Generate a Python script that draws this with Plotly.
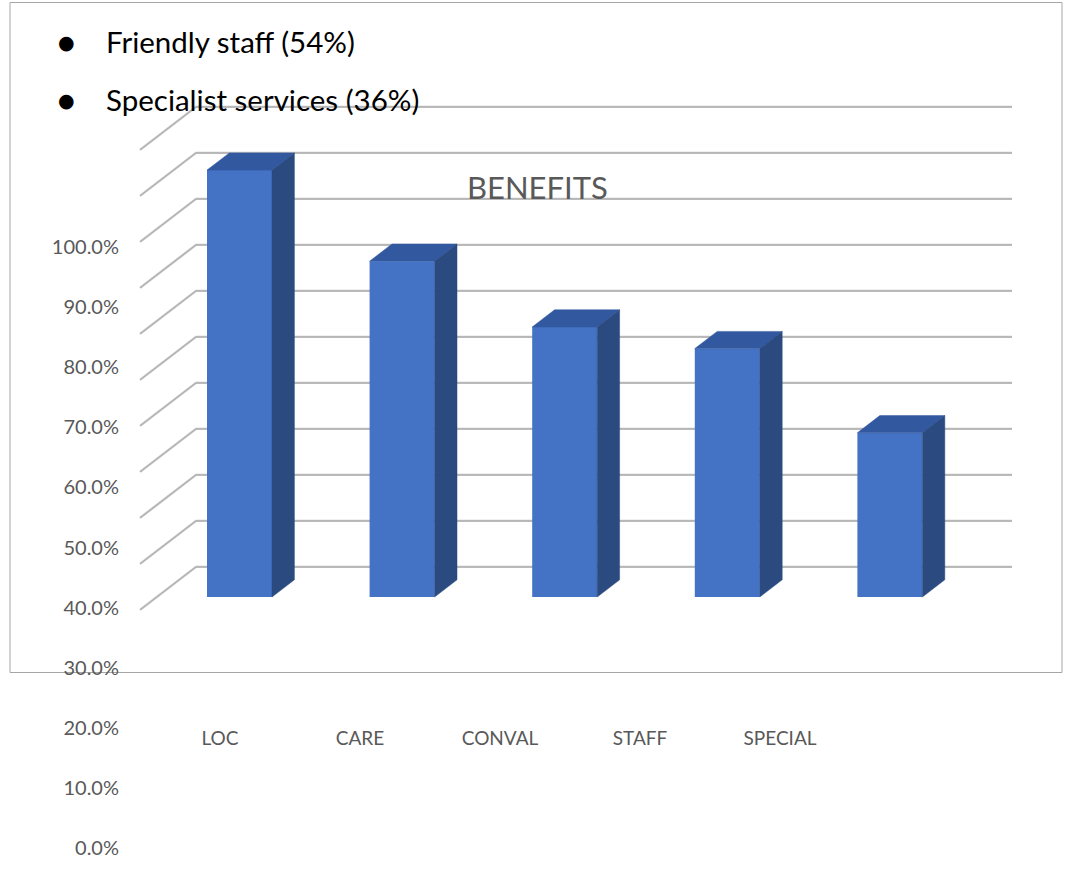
import plotly.graph_objects as go

# ---------------- data ----------------
CATEGORIES = ["LOC", "CARE", "CONVAL", "STAFF", "SPECIAL"]
VALUES = [92.8, 73.0, 58.7, 54.0, 35.7]          # percent
GRID_VALUES = [0, 10, 20, 30, 40, 50, 60, 70, 80, 90, 100]
AXIS_LABEL_VALUES = [0.0, 0.1, 0.2, 0.3, 0.4, 0.5, 0.6, 0.7, 0.8, 0.9, 1.0]
BULLET_LABELS = ["Friendly staff", "Specialist services"]
BULLET_VALUES = [54, 36]
TITLE = "BENEFITS"

# ---------------- geometry / style ----------------
W, H = 1066, 876
FONT = "Lato"
GREY_TXT = "#595959"
X0_PX, X_UNIT_PX = 239.5, 162.6     # bar 0 centre, px per category
Y0_PX, Y_UNIT_PX = 597.0, 4.6       # baseline of bar fronts, px per percent
XR = [(0 - X0_PX) / X_UNIT_PX, (W - X0_PX) / X_UNIT_PX]
YR = [(Y0_PX - H) / Y_UNIT_PX, Y0_PX / Y_UNIT_PX]

DEPTH_DX = 56 / X_UNIT_PX
DEPTH_DY = 43 / Y_UNIT_PX
BAR_FRONT, BAR_BACK = 0.30, 0.70
BAR_W = 65 / X_UNIT_PX
WALL_LEFT_FRONT = (140 - X0_PX) / X_UNIT_PX   # at depth 0
WALL_RIGHT = (1012 - X0_PX) / X_UNIT_PX


def proj(x, v, d):
    """x measured in the bar-front plane; d = depth 0 (front) .. 1 (back wall)."""
    return x + (d - BAR_FRONT) * DEPTH_DX, v + (d - BAR_FRONT) * DEPTH_DY


fig = go.Figure()

# ----- gridlines (side diagonal + back wall) -----
gx, gy = [], []
wall_left_bar_plane = WALL_LEFT_FRONT + BAR_FRONT * DEPTH_DX
for v in GRID_VALUES:
    p0 = proj(wall_left_bar_plane, v, 0.0)
    p1 = proj(wall_left_bar_plane, v, 1.0)
    gx += [p0[0], p1[0], WALL_RIGHT, None]
    gy += [p0[1], p1[1], p1[1], None]
fig.add_trace(go.Scatter(x=gx, y=gy, mode="lines",
                         line=dict(color="#c4c4c4", width=2.4),
                         hoverinfo="skip", showlegend=False))
fig.add_trace(go.Scatter(x=gx, y=gy, mode="lines",
                         line=dict(color="#a9a9a9", width=0.8),
                         hoverinfo="skip", showlegend=False))

# ----- bars (front faces) -----
xs = list(range(len(CATEGORIES)))
fig.add_trace(go.Bar(x=xs, y=VALUES, base=0, width=BAR_W,
                     marker=dict(color="#4472C4", line=dict(width=0)),
                     xaxis="x2", yaxis="y2", hoverinfo="skip", showlegend=False))

# ----- top and side faces -----
for xc, v in zip(xs, VALUES):
    l, r = xc - BAR_W / 2, xc + BAR_W / 2
    top = [proj(l, v, BAR_FRONT), proj(r, v, BAR_FRONT),
           proj(r, v, BAR_BACK), proj(l, v, BAR_BACK)]
    side = [proj(r, 0, BAR_FRONT), proj(r, v, BAR_FRONT),
            proj(r, v, BAR_BACK), proj(r, 0, BAR_BACK)]
    for poly, col in ((top, "#3259A0"), (side, "#2B4A80")):
        fig.add_trace(go.Scatter(
            x=[p[0] for p in poly] + [poly[0][0]],
            y=[p[1] for p in poly] + [poly[0][1]],
            mode="lines", fill="toself", fillcolor=col,
            line=dict(color=col, width=0.5),
            xaxis="x2", yaxis="y2", hoverinfo="skip", showlegend=False))

# ----- invisible anchor trace for label axes -----
fig.add_trace(go.Scatter(x=xs, y=[0] * len(xs), mode="markers",
                         marker=dict(opacity=0), xaxis="x3", yaxis="y3",
                         hoverinfo="skip", showlegend=False))

# y label axis: 0 at px 848, 100% at px 247
Y3_PX0, Y3_PX100 = 848.0, 247.0
y3_scale = (Y3_PX0 - Y3_PX100)
Y3R = [(Y3_PX0 - H) / y3_scale, Y3_PX0 / y3_scale]

hidden = dict(visible=False, fixedrange=True)
fig.update_layout(
    width=W, height=H,
    margin=dict(l=0, r=0, t=0, b=0),
    paper_bgcolor="white", plot_bgcolor="rgba(0,0,0,0)",
    showlegend=False,
    font=dict(family=FONT, color=GREY_TXT),
    xaxis=dict(domain=[0, 1], range=XR, **hidden),
    yaxis=dict(domain=[0, 1], range=YR, **hidden),
    xaxis2=dict(overlaying="x", range=XR, **hidden),
    yaxis2=dict(overlaying="y", range=YR, **hidden),
    xaxis3=dict(domain=[150 / W, 850 / W], range=[-0.5, len(xs) - 0.5],
                tickvals=xs, ticktext=CATEGORIES, anchor="free",
                position=(H - 725) / H, showgrid=False, zeroline=False,
                showline=False, ticks="", fixedrange=True,
                tickfont=dict(family=FONT, size=19, color=GREY_TXT)),
    yaxis3=dict(domain=[0, 1], range=Y3R, tickvals=AXIS_LABEL_VALUES,
                tickformat=".1%", anchor="free", position=119 / W,
                side="left", showgrid=False, zeroline=False, showline=False,
                ticks="", fixedrange=True,
                tickfont=dict(family=FONT, size=20, color=GREY_TXT)),
    shapes=[dict(type="rect", xref="paper", yref="paper",
                 x0=10 / W, x1=1062 / W, y0=1 - 672.5 / H, y1=1 - 2.5 / H,
                 line=dict(color="#a6a6a6", width=1), fillcolor="rgba(0,0,0,0)",
                 layer="below")],
)

annotations = [dict(text=TITLE, x=537 / W, y=1 - 187 / H, xref="paper", yref="paper",
                    xanchor="center", yanchor="middle", showarrow=False,
                    font=dict(family=FONT, size=31, color=GREY_TXT))]
for i, (lab, val) in enumerate(zip(BULLET_LABELS, BULLET_VALUES)):
    yc = 1 - (42 + 58 * i) / H
    annotations.append(dict(text="\u25CF", x=66 / W, y=yc, xref="paper", yref="paper",
                            xanchor="center", yanchor="middle", showarrow=False,
                            font=dict(family="DejaVu Sans", size=19, color="black")))
    annotations.append(dict(text=f"{lab} ({val}%)", x=104 / W, y=yc,
                            xref="paper", yref="paper", xanchor="left",
                            yanchor="middle", showarrow=False,
                            font=dict(family=FONT, size=29.5, color="black")))
fig.update_layout(annotations=annotations)

fig.write_html("out.html")
